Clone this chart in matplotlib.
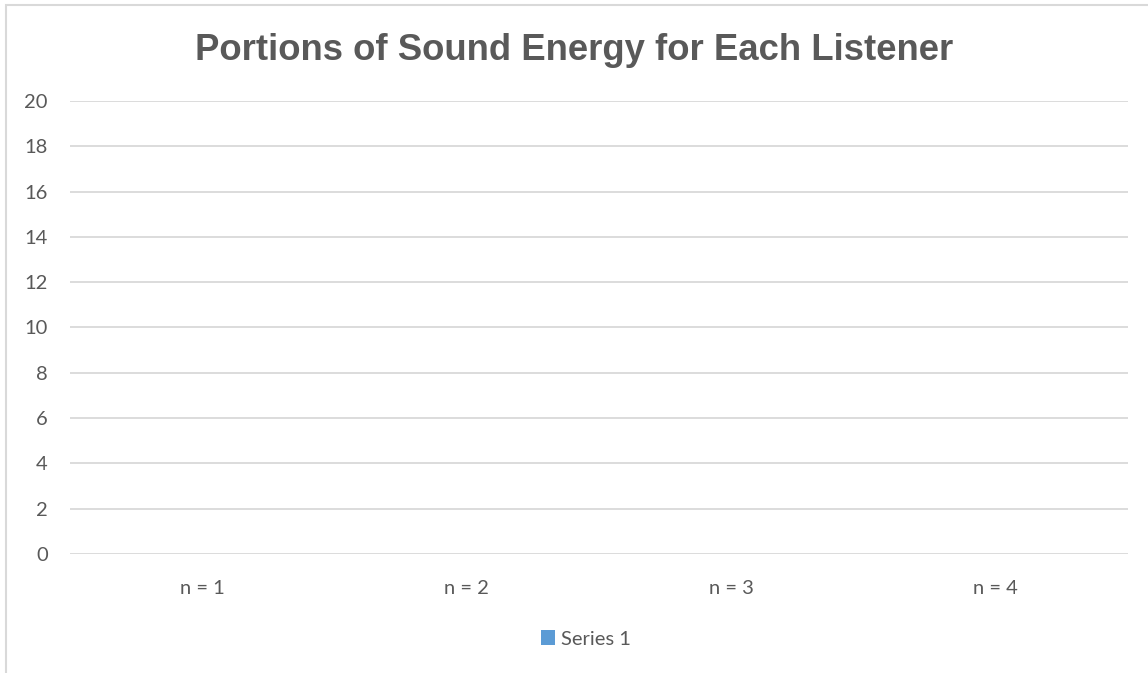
import matplotlib
matplotlib.use("Agg")
import matplotlib.pyplot as plt
from matplotlib.patches import Patch, Rectangle

# data
categories = ["n = 1", "n = 2", "n = 3", "n = 4"]
series_1 = [0, 0, 0, 0]
y_ticks = [0, 2, 4, 6, 8, 10, 12, 14, 16, 18, 20]

text_grey = "#595959"
grid_grey = "#D9D9D9"
bar_blue = "#5B9BD5"

fig = plt.figure(figsize=(11.48, 6.73), dpi=100)
ax = fig.add_axes([70 / 1148, 119 / 673, 1058 / 1148, 453 / 673])

x = range(len(categories))
ax.bar(x, series_1, width=0.55, color=bar_blue, linewidth=0)

ax.set_xlim(-0.5, len(categories) - 0.5)
ax.set_ylim(0, 20)
ax.set_yticks(y_ticks)
ax.set_xticks(list(x))
ax.set_xticklabels(categories)

for s in ax.spines.values():
    s.set_visible(False)
ax.yaxis.grid(True, color=grid_grey, linewidth=1.3)
ax.set_axisbelow(True)
ax.tick_params(length=0, labelsize=14.5, labelcolor=text_grey)
ax.tick_params(axis="y", pad=16)
ax.tick_params(axis="x", pad=19)
for lbl in ax.get_xticklabels() + ax.get_yticklabels():
    lbl.set_family("Lato")

fig.text(0.5, 1 - 50 / 673, "Portions of Sound Energy for Each Listener",
         ha="center", va="center", fontsize=26.3, fontweight="bold",
         color=text_grey, family="Liberation Sans")

fig.legend(handles=[Patch(facecolor=bar_blue, label="Series 1")],
           loc="center", bbox_to_anchor=(586 / 1148, 1 - 639 / 673),
           frameon=False, handlelength=0.7, handleheight=0.7,
           handletextpad=0.3, prop={"family": "Lato", "size": 14.5},
           labelcolor=text_grey)

# outer chart frame
fig.patches.append(Rectangle((5.5 / 1148, -0.1), 1.2, 1.1 - 5.5 / 673,
                             transform=fig.transFigure, fill=False,
                             edgecolor=grid_grey, linewidth=1.5))

fig.savefig("out.png", dpi=100)
